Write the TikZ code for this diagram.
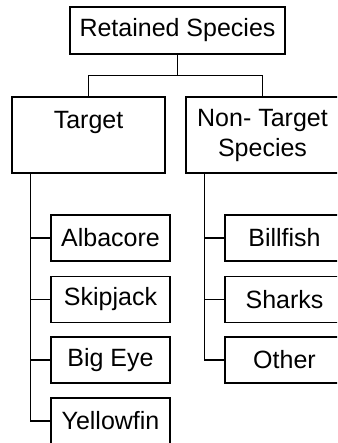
\documentclass[tikz,border=0pt]{standalone}
\usepackage{fontspec}
\setmainfont{Liberation Sans}
\usepackage{tikz}
\usetikzlibrary{calc, positioning}

\tikzset{
	grp/.style={draw, line width=1.5pt, fill=white, align=center, inner sep=0pt, font=\fontsize{25}{30}\selectfont},
	top/.style={grp, minimum width=215, minimum height=47},
	cat/.style={grp, minimum width=153, minimum height=76},
	leaf/.style={grp, minimum width=119, minimum height=46},
	link/.style={line width=1.5pt}
}

\begin{document}
\begin{tikzpicture}[x=1pt, y=-1pt]
		\useasboundingbox (0,0) rectangle (337,443);
		\clip (0,0) rectangle (337,443);

		\node[top] (ret) at (177.5,30.5) {Retained Species};
		\node[cat] (tgt) at (88.5,135) {Target\\\mbox{}};
		\node[cat] (non) at (262.5,135) {Non- Target\\Species};

		\node[leaf] (alb) at (110.5,238) {Albacore};
		\node[leaf] (skj) at (110.5,299.5) {Skipjack};
		\node[leaf] (bge) at (110.5,360) {Big Eye};
		\node[leaf] (ylf) at (110.5,421) {Yellowfin};

		\node[leaf] (bil) at (284.5,238) {Billfish};
		\node[leaf] (shk) at (284.5,299.5) {Sharks};
		\node[leaf] (oth) at (284.5,360) {Other};

		\coordinate (fork) at ($(ret.south)+(0,21)$);
		\draw[link] (ret.south) -- (fork) -| (tgt.north); \draw[link] (fork) -| (non.north);

		\draw[link] (tgt.south west) ++(19,0) |- (ylf.west); \draw[link] (tgt.south west) ++(19,0) |- (alb.west); \draw[link] (tgt.south west) ++(19,0) |- (skj.west); \draw[link] (tgt.south west) ++(19,0) |- (bge.west);
		\draw[link] (non.south west) ++(19,0) |- (oth.west); \draw[link] (non.south west) ++(19,0) |- (bil.west); \draw[link] (non.south west) ++(19,0) |- (shk.west);
\end{tikzpicture}
\end{document}
